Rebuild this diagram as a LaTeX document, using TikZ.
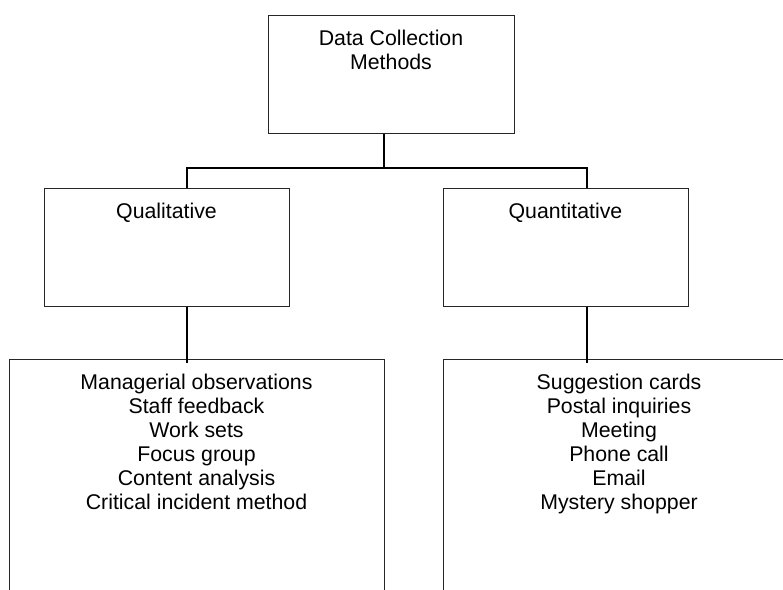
\documentclass[tikz,border=0pt]{standalone}
\usepackage{fontspec}
\setmainfont{Liberation Sans}
\usetikzlibrary{calc, positioning}

\begin{document}
\begin{tikzpicture}[x=1pt, y=-1pt, box/.style={draw=black!85, line width=1pt, rectangle, inner sep=0pt},head/.style={anchor=north, align=center, inner sep=0pt, yshift=-15pt, font=\fontsize{21.3}{24}\selectfont},link/.style={draw=black, line width=1.3pt}]
  \clip (0,0) rectangle (783,589);

  \node[box, minimum width=246pt, minimum height=118pt, label={[head, name=dcmtext]north:Data Collection\\Methods}] (dcm) at (391,74) {};

  \node[box, minimum width=245pt, minimum height=118pt, label={[head, name=qualtext]north:Qualitative}] (qual) at (166.5,247) {};
  \node[box, minimum width=245pt, minimum height=118pt, label={[head, name=quanttext]north:Quantitative}] (quant) at (565.5,247) {};

  \node[box, minimum width=375pt, minimum height=244pt, label={[head, name=qualitems]north:Managerial observations\\Staff feedback\\Work sets\\Focus group\\Content analysis\\Critical incident method}] (quallist) at (196.5,481) {};
  \node[box, minimum width=352pt, minimum height=244pt, label={[head, name=quantitems]north:Suggestion cards\\Postal inquiries\\Meeting\\Phone call\\Email\\Mystery shopper}] (quantlist) at (619,481) {};

  \coordinate (jtop) at (384,168);
  \coordinate (jleft) at (187,168);
  \coordinate (jright) at (587,168);

  \draw[link] (dcm.south -| jtop) -- (jtop);
  \draw[link] (qual.north -| jleft) -- (jleft) -- (jright) -- (quant.north -| jright);
  \draw[link] (qual.south -| jleft) -- ([yshift=-4pt]quallist.north -| jleft);
  \draw[link] (quant.south -| jright) -- ([yshift=-4pt]quantlist.north -| jright);
\end{tikzpicture}
\end{document}
